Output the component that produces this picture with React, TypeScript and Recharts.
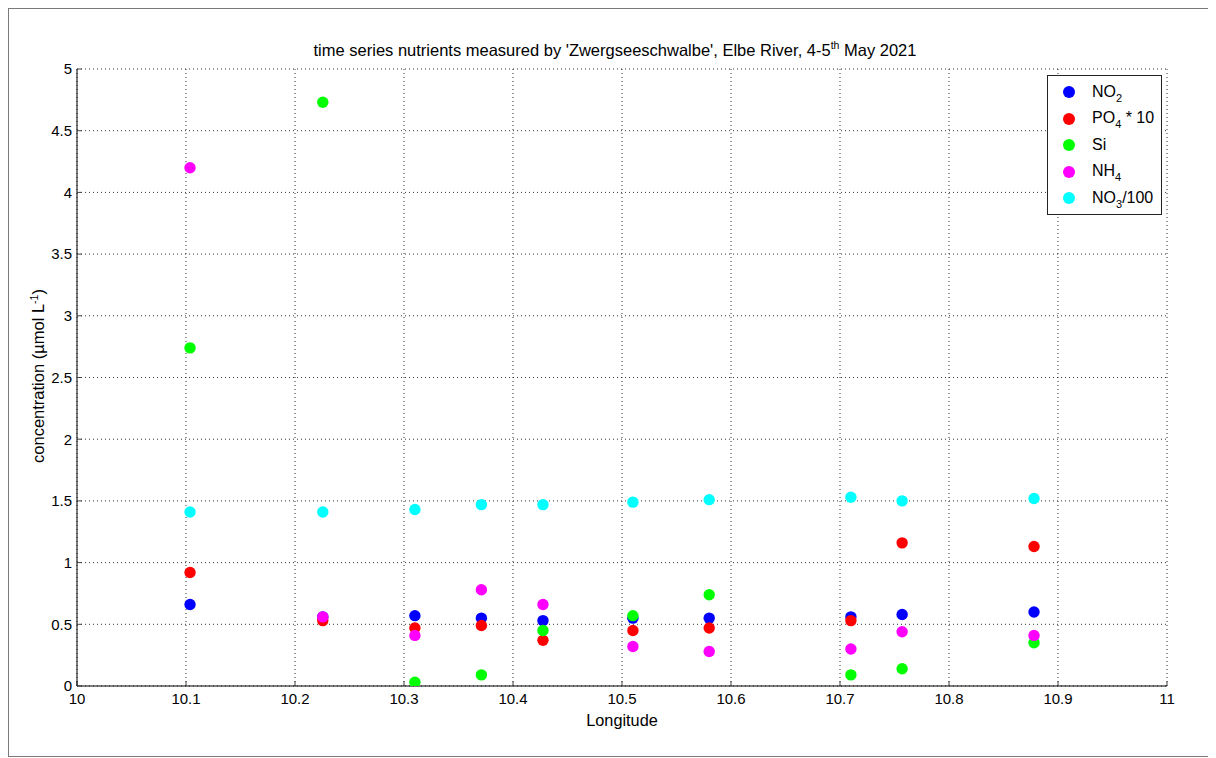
import {
  CartesianGrid,
  Legend,
  Scatter,
  ScatterChart,
  XAxis,
  YAxis,
} from "recharts";

const longitude = [10.1037, 10.2255, 10.31, 10.371, 10.4275, 10.51, 10.58, 10.71, 10.757, 10.878];
const no2 = [0.66, 0.56, 0.57, 0.55, 0.53, 0.55, 0.55, 0.56, 0.58, 0.6];
const po4x10 = [0.92, 0.53, 0.47, 0.49, 0.37, 0.45, 0.47, 0.53, 1.16, 1.13];
const si = [2.74, 4.73, 0.03, 0.09, 0.45, 0.57, 0.74, 0.09, 0.14, 0.35];
const nh4 = [4.2, 0.56, 0.41, 0.78, 0.66, 0.32, 0.28, 0.3, 0.44, 0.41];
const no3div100 = [1.41, 1.41, 1.43, 1.47, 1.47, 1.49, 1.51, 1.53, 1.5, 1.52];

const xTicks = [10, 10.1, 10.2, 10.3, 10.4, 10.5, 10.6, 10.7, 10.8, 10.9, 11];
const yTicks = [0, 0.5, 1, 1.5, 2, 2.5, 3, 3.5, 4, 4.5, 5];

const FONT = "'Liberation Sans', Arial, sans-serif";

const toPoints = (vals: number[]) => longitude.map((x, i) => ({ x, y: vals[i] }));

const series = [
  { key: "no2", name: "NO", sub: "2", tail: "", color: "#0000ff", values: no2 },
  { key: "po4", name: "PO", sub: "4", tail: " * 10", color: "#ff0000", values: po4x10 },
  { key: "si", name: "Si", sub: "", tail: "", color: "#00ff00", values: si },
  { key: "nh4", name: "NH", sub: "4", tail: "", color: "#ff00ff", values: nh4 },
  { key: "no3", name: "NO", sub: "3", tail: "/100", color: "#00ffff", values: no3div100 },
];

function LegendBox() {
  return (
    <div
      style={{
        width: 115,
        height: 140,
        boxSizing: "border-box",
        border: "1px solid #222",
        background: "#fff",
        fontFamily: FONT,
        fontSize: 16,
        color: "#000",
        paddingTop: 3,
      }}
    >
      {series.map((s) => (
        <div key={s.key} style={{ height: 26.5, display: "flex", alignItems: "center", position: "relative" }}>
          <span
            style={{
              position: "absolute",
              left: 15,
              width: 12,
              height: 12,
              borderRadius: "50%",
              background: s.color,
            }}
          />
          <span style={{ position: "absolute", left: 44, whiteSpace: "nowrap", lineHeight: "16px" }}>
            {s.name}
            {s.sub && <span style={{ fontSize: 11, position: "relative", top: 5 }}>{s.sub}</span>}
            {s.tail}
          </span>
        </div>
      ))}
    </div>
  );
}

function YLabel() {
  return (
    <text
      x={30}
      y={368}
      transform="rotate(-90 30 368)"
      textAnchor="middle"
      dy="0.35em"
      fontFamily={FONT}
      fontSize={16.5}
      fill="#000"
    >
      concentration (µmol L
      <tspan dy={-6} fontSize={10.5}>-1</tspan>
      <tspan dy={6}>)</tspan>
    </text>
  );
}

export default function App() {
  return (
    <div style={{ position: "relative", width: 1208, height: 750, overflow: "hidden" }}>
      <div
        style={{
          position: "absolute",
          left: 0,
          top: 0,
          width: 1230,
          height: 749,
          border: "1px solid #7a7a7a",
          boxSizing: "border-box",
        }}
      />
      <div
        style={{
          position: "absolute",
          left: 0,
          width: 1230,
          top: 31,
          fontFamily: FONT,
          fontSize: 16.5,
          color: "#000",
          whiteSpace: "nowrap",
        }}
      >
        <span style={{ position: "absolute", left: 607, transform: "translateX(-50%)" }}>
          time series nutrients measured by 'Zwergseeschwalbe', Elbe River, 4-5
          <sup style={{ fontSize: 10.5 }}>th</sup> May 2021
        </span>
      </div>
      <ScatterChart
        width={1208}
        height={750}
        margin={{ top: 61, right: 49, bottom: 0, left: 0 }}
        style={{ position: "absolute", left: 0, top: 0 }}
      >
        <CartesianGrid stroke="#333" strokeDasharray="1 3" />
        <XAxis
          type="number"
          dataKey="x"
          domain={[10, 11]}
          ticks={xTicks}
          interval={0}
          height={72}
          allowDataOverflow
          tickSize={-5}
          tickMargin={12}
          stroke="#000"
          tick={{ fill: "#000", fontSize: 15, fontFamily: FONT }}
          tickLine={{ stroke: "#444" }}
          label={{
            value: "Longitude",
            position: "insideBottom",
            offset: 32,
            fill: "#000",
            fontSize: 16.3,
            fontFamily: FONT,
          }}
        />
        <XAxis
          xAxisId="top"
          orientation="top"
          type="number"
          domain={[10, 11]}
          ticks={xTicks}
          interval={0}
          height={0}
          tickSize={-5}
          tick={false}
          stroke="#000"
          tickLine={{ stroke: "#444" }}
        />
        <YAxis
          type="number"
          dataKey="y"
          domain={[0, 5]}
          ticks={yTicks}
          interval={0}
          width={69}
          allowDataOverflow
          tickSize={-5}
          tickMargin={10}
          stroke="#000"
          tick={{ fill: "#000", fontSize: 15, fontFamily: FONT }}
          tickLine={{ stroke: "#444" }}
          label={<YLabel />}
        />
        <YAxis
          yAxisId="right"
          orientation="right"
          type="number"
          domain={[0, 5]}
          ticks={yTicks}
          interval={0}
          width={0}
          tickSize={-5}
          tick={false}
          stroke="#000"
          tickLine={{ stroke: "#444" }}
        />
        <Legend
          layout="vertical"
          align="center"
          verticalAlign="middle"
          wrapperStyle={{ left: 1039, top: 67, width: 115, height: 140 }}
          content={() => <LegendBox />}
        />
        {series.map((s) => (
          <Scatter
            key={s.key}
            name={s.name}
            data={toPoints(s.values)}
            fill={s.color}
            isAnimationActive={false}
            shape={(p: any) => <circle cx={p.cx} cy={p.cy} r={5.7} fill={s.color} />}
          />
        ))}
      </ScatterChart>
    </div>
  );
}
